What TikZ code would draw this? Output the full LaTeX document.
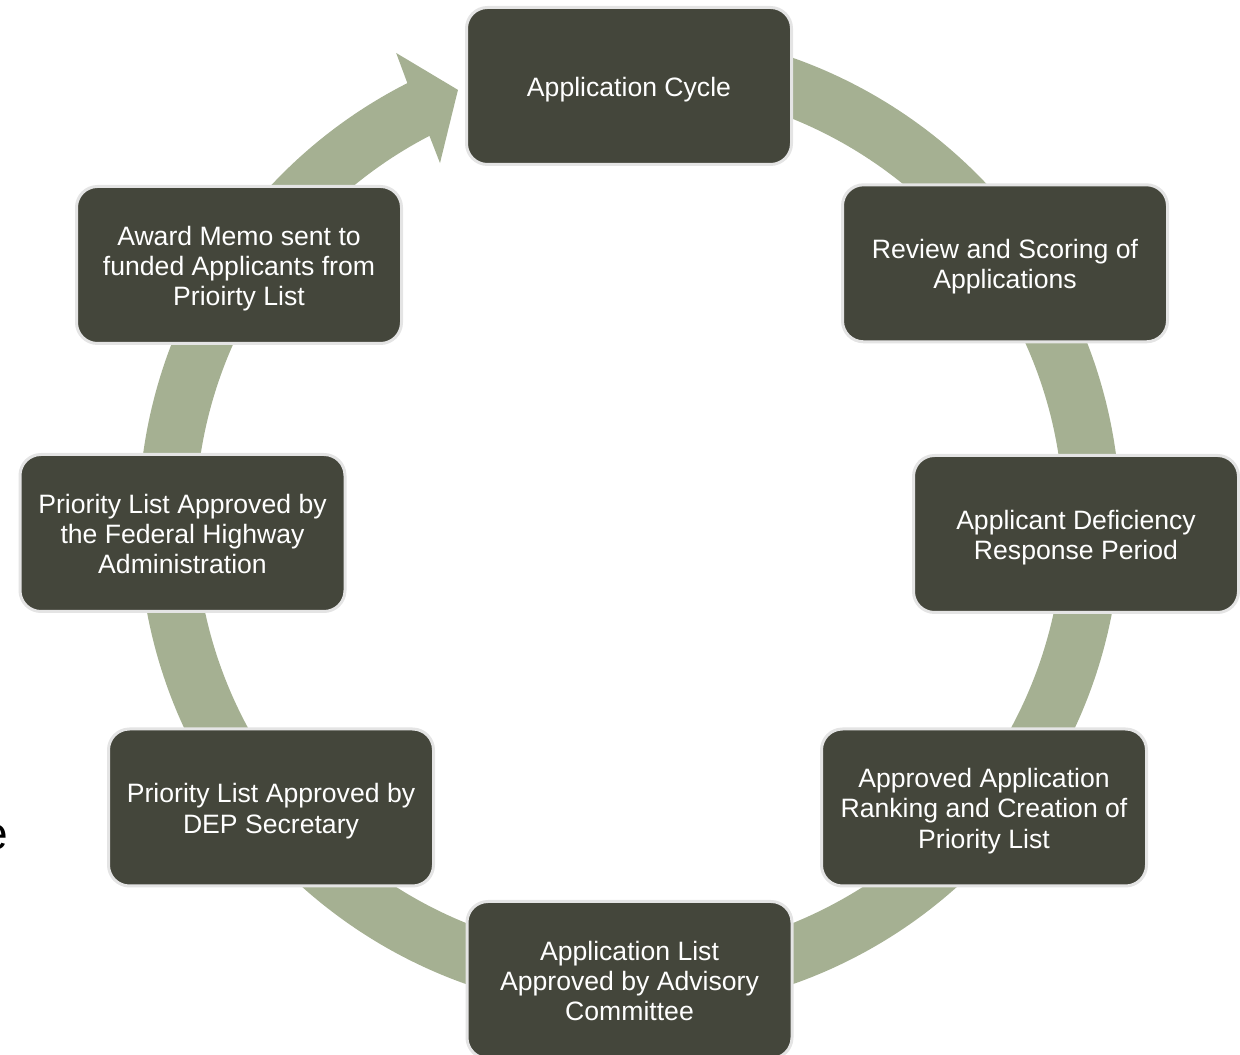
\documentclass[tikz,border=0pt]{standalone}
\usepackage{fontspec}
\setmainfont{Liberation Sans}
\definecolor{ringc}{RGB}{165,176,146}
\definecolor{boxc}{RGB}{68,70,59}
\definecolor{edgec}{RGB}{228,228,228}
\newcommand\cTop{\rule{0pt}{27pt}}
\newcommand\cBot{\rule[-6pt]{0pt}{6pt}}
\begin{document}
\begin{tikzpicture}[x=1pt,y=1pt,
  cbox/.style={rectangle, rounded corners=21pt, fill=boxc, draw=edgec, line width=3pt,
    minimum width=325pt, minimum height=157pt, inner sep=0pt, align=center,
    text=white, font=\fontsize{26.6}{30.3}\selectfont},
  ringarrow/.style={fill=ringc, draw=none}]
\useasboundingbox (0,0) rectangle (1240,1055);
% circular arrow ring
\begin{scope}[shift={(629.5,534)}]
  \fill[ringarrow] (95:491) arc[start angle=95, end angle=-243.1, radius=491]
    -- (-243.5:523) -- (-248.3:464) -- (-242.1:405) -- (-242.55:434)
    arc[start angle=-242.55, end angle=95, radius=434] -- cycle;
\end{scope}
% boxes
\node[cbox] (cycle)  at (629,969)    {\cTop Application Cycle\cBot};
\node[cbox] (review) at (1005,791.7) {\cTop Review and Scoring of\\Applications\cBot};
\node[cbox] (defic)  at (1076,521)   {\cTop Applicant Deficiency\\Response Period\cBot};
\node[cbox] (rank)   at (984,247.5)  {\cTop Approved Application\\Ranking and Creation of\\Priority List\cBot};
\node[cbox] (advis)  at (629.5,75)   {\cTop Application List\\Approved by Advisory\\Committee\cBot};
\node[cbox] (dep)    at (271,247.5)  {\cTop Priority List Approved by\\DEP Secretary\cBot};
\node[cbox] (fhwa)   at (182.5,522)  {\cTop Priority List Approved by\\the Federal Highway\\Administration\cBot};
\node[cbox] (award)  at (239,790)    {\cTop Award Memo sent to\\funded Applicants from\\Prioirty List\cBot};
% stray clipped letter at left edge
\node[anchor=base east, inner sep=0pt, text=black, font=\fontsize{46}{50}\selectfont] (stray) at (8.5,205) {e};
\end{tikzpicture}
\end{document}
